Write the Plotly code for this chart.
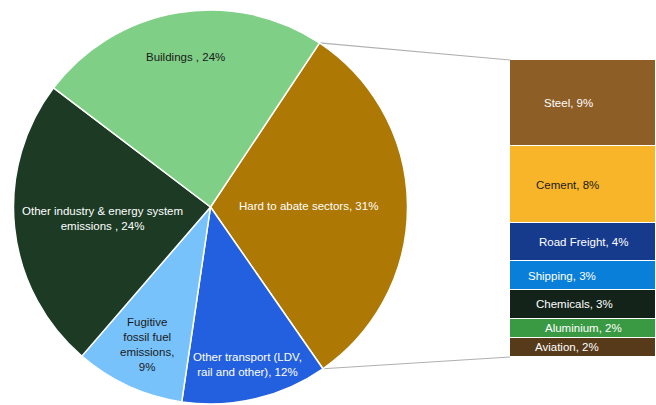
import math
import plotly.graph_objects as go

# ---- data ----
pie_labels = ["Hard to abate sectors", "Other transport (LDV, rail and other)",
              "Fugitive fossil fuel emissions", "Other industry & energy system emissions",
              "Buildings"]
pie_values = [31, 12, 9, 24, 24]
pie_text = ["Hard to abate sectors, 31%", "Other transport (LDV,<br>rail and other), 12%",
            "Fugitive<br>fossil fuel<br>emissions,<br>9%",
            "Other industry & energy system<br>emissions , 24%", "Buildings , 24%"]
pie_colors = ["#AD7803", "#2360E0", "#77C2FA", "#1C3A24", "#80CF86"]
pie_text_colors = ["white", "white", "#1a1a1a", "white", "#1a1a1a"]
pie_label_r = [0.5, 0.82, 0.77, 0.55, 0.77]   # radial fraction of label position

bar_labels = ["Aviation", "Aluminium", "Chemicals", "Shipping", "Road Freight", "Cement", "Steel"]
bar_values = [2, 2, 3, 3, 4, 8, 9]
bar_colors = ["#573A1A", "#3A9A44", "#13231A", "#0A7FD9", "#163A8C", "#F9B52A", "#8E5E27"]
bar_text_colors = ["white", "white", "white", "white", "white", "#1a1a1a", "white"]
bar_text_shift = [-16, 0, -9, -21, 1, -16, -15]   # label horizontal offsets (px)

W, H = 656, 405
FONT = "Liberation Sans"
FS = 11.5

# pie geometry (pixels)
cx, cy, R = 210.5, 207.0, 197.0
rotation = 33.6  # degrees clockwise from 12 o'clock

fig = go.Figure()
fig.add_trace(go.Pie(
    labels=pie_labels, values=pie_values, sort=False, direction="clockwise",
    rotation=rotation, marker=dict(colors=pie_colors, line=dict(color="white", width=1.5)),
    textinfo="none", hoverinfo="label+value", showlegend=False,
    domain=dict(x=[(cx - R) / W, (cx + R) / W], y=[1 - (cy + R) / H, 1 - (cy - R) / H]),
))

# bar of pie
bar_top_px, bar_bot_px = 60, 357
total = sum(bar_values)
cum = 0
for lab, v, c, tc, sh in zip(bar_labels, bar_values, bar_colors, bar_text_colors, bar_text_shift):
    fig.add_trace(go.Bar(
        x=[0], y=[v], name=lab, marker=dict(color=c, line=dict(color="white", width=1.5)),
        width=1, showlegend=False, xaxis="x", yaxis="y", hoverinfo="name+y",
    ))
    fig.add_annotation(x=0, y=cum + v / 2, xref="x", yref="y", text=f"{lab}, {v}%",
                       xanchor="center", yanchor="middle", xshift=sh, showarrow=False,
                       font=dict(color=tc, size=FS, family=FONT))
    cum += v

# pie slice labels computed from slice mid angles
cum = 0
tot = sum(pie_values)
for v, t, tc, rf in zip(pie_values, pie_text, pie_text_colors, pie_label_r):
    mid = rotation + (cum + v / 2) / tot * 360
    cum += v
    a = math.radians(mid)
    px = cx + rf * R * math.sin(a)
    py = cy - rf * R * math.cos(a)
    fig.add_annotation(x=px / W, y=1 - py / H, xref="paper", yref="paper", text=t,
                       xanchor="center", yanchor="middle",
                       showarrow=False, font=dict(color=tc, size=FS, family=FONT),
                       align="center")

# connector lines from pie edge of first slice to bar corners
a0 = math.radians(rotation)
a1 = math.radians(rotation + pie_values[0] / tot * 360)
bar_left_px = 510
p0 = (cx + R * math.sin(a0), cy - R * math.cos(a0))
p1 = (cx + R * math.sin(a1), cy - R * math.cos(a1))
fig.add_trace(go.Scatter(
    x=[p0[0], bar_left_px, None, p1[0], bar_left_px],
    y=[p0[1], bar_top_px, None, p1[1], bar_bot_px],
    mode="lines", line=dict(color="#B0B0B0", width=1.2), hoverinfo="skip",
    showlegend=False, xaxis="x2", yaxis="y2",
))

fig.update_layout(
    width=W, height=H, margin=dict(l=0, r=0, t=0, b=0),
    paper_bgcolor="white", plot_bgcolor="rgba(0,0,0,0)",
    barmode="stack", bargap=0,
    font=dict(family=FONT, size=FS),
    xaxis=dict(domain=[bar_left_px / W, 1], range=[-0.5, 0.5], visible=False, fixedrange=True),
    yaxis=dict(domain=[1 - bar_bot_px / H, 1 - bar_top_px / H], range=[0, total],
               visible=False, fixedrange=True),
    xaxis2=dict(domain=[0, 1], range=[0, W], visible=False, anchor="y2", fixedrange=True),
    yaxis2=dict(domain=[0, 1], range=[H, 0], visible=False, anchor="x2", fixedrange=True),
)

fig.write_html("out.html")
